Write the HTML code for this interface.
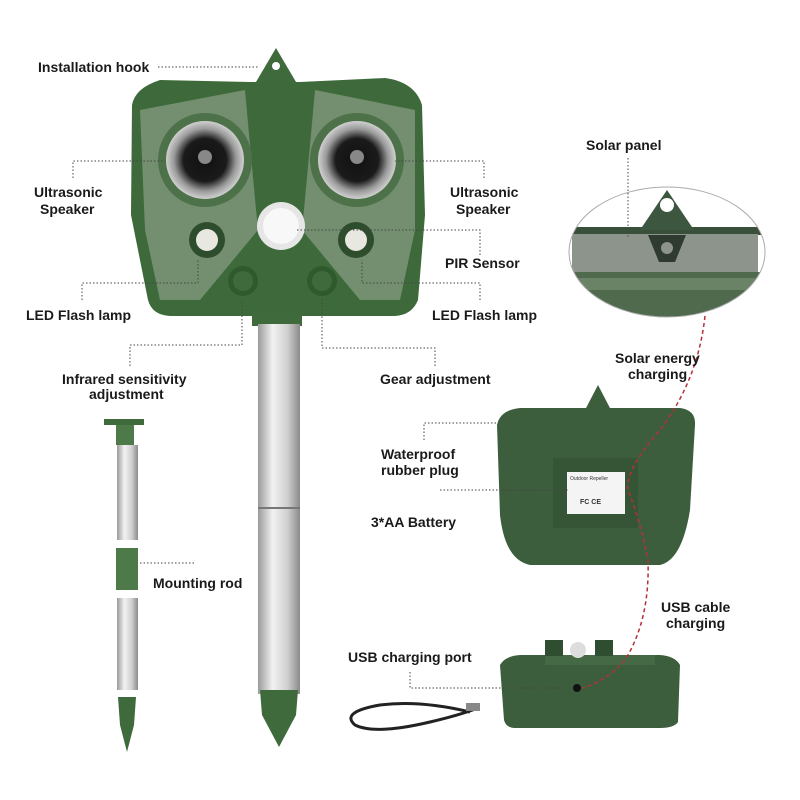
<!DOCTYPE html>
<html><head><meta charset="utf-8"><style>
html,body{margin:0;padding:0;background:#fff;}
svg{display:block}
text{font-family:"Liberation Sans",sans-serif;font-size:14px;font-weight:bold;fill:#1a1a1a;}
</style></head><body>
<svg width="800" height="800" viewBox="0 0 800 800" xmlns="http://www.w3.org/2000/svg">
<defs>
<linearGradient id="pole" x1="0" x2="1"><stop offset="0" stop-color="#9a9a9a"/><stop offset="0.35" stop-color="#f2f2f2"/><stop offset="0.7" stop-color="#d0d0d0"/><stop offset="1" stop-color="#8a8a8a"/></linearGradient>
<radialGradient id="spk"><stop offset="0" stop-color="#111"/><stop offset="0.55" stop-color="#1a1a1a"/><stop offset="0.8" stop-color="#9a9a9a"/><stop offset="1" stop-color="#d0d0d0"/></radialGradient>
<clipPath id="ell"><ellipse cx="667" cy="252" rx="98" ry="65"/></clipPath>
</defs>

<!-- Main device -->
<path d="M256 82 L276 48 L296 82 Z" fill="#3f6a3c"/>
<circle cx="276" cy="66" r="4" fill="#fff"/>
<path d="M132 105 Q135 88 160 80 L250 82 L300 82 L385 78 Q415 82 422 105 L425 215 L418 300 Q412 315 395 316 L170 316 Q152 315 148 300 L131 215 Z" fill="#3e6a3b"/>
<path d="M140 110 L245 90 Q255 200 258 230 L200 300 L160 300 L145 230 Z" fill="#738f70"/>
<path d="M415 110 L315 90 Q305 200 302 230 L360 300 L400 300 L415 230 Z" fill="#738f70"/>
<circle cx="205" cy="160" r="47" fill="#4d7249"/>
<circle cx="205" cy="160" r="39" fill="url(#spk)"/>
<circle cx="205" cy="157" r="7" fill="#888"/>
<circle cx="357" cy="160" r="47" fill="#4d7249"/>
<circle cx="357" cy="160" r="39" fill="url(#spk)"/>
<circle cx="357" cy="157" r="7" fill="#888"/>
<circle cx="207" cy="240" r="18" fill="#2e4d2c"/><circle cx="207" cy="240" r="11" fill="#e8e8e0"/>
<circle cx="356" cy="240" r="18" fill="#2e4d2c"/><circle cx="356" cy="240" r="11" fill="#e8e8e0"/>
<circle cx="281" cy="226" r="24" fill="#e6e6e6"/><circle cx="281" cy="226" r="18" fill="#f8f8f8"/>
<circle cx="243" cy="281" r="15" fill="#2f5a2d"/><circle cx="243" cy="281" r="10" fill="#3f6a3c"/>
<circle cx="322" cy="281" r="15" fill="#2f5a2d"/><circle cx="322" cy="281" r="10" fill="#3f6a3c"/>
<rect x="252" y="314" width="50" height="12" fill="#3e6a3c"/>
<!-- Pole -->
<rect x="258" y="324" width="42" height="370" fill="url(#pole)"/>
<line x1="258" y1="508" x2="300" y2="508" stroke="#777" stroke-width="2"/>
<path d="M260 690 L298 690 L296 715 L279 747 L262 715 Z" fill="#3f6a3c"/>

<!-- Exploded rod -->
<rect x="104" y="419" width="40" height="6" fill="#3e6a3c"/>
<rect x="116" y="425" width="18" height="20" fill="#4d7a48"/>
<rect x="117" y="445" width="21" height="95" fill="url(#pole)"/>
<rect x="116" y="548" width="22" height="42" fill="#4d7a48"/>
<rect x="117" y="598" width="21" height="92" fill="url(#pole)"/>
<path d="M118 697 L136 697 L134 725 L127 752 L120 725 Z" fill="#3f6a3c"/>

<!-- Solar panel ellipse -->
<g clip-path="url(#ell)">
<rect x="560" y="180" width="220" height="150" fill="#fff"/>
<rect x="560" y="272" width="220" height="60" fill="#4f6a4c"/>
<path d="M560 278 L780 278 L760 290 L580 290 Z" fill="#6a8266"/>
<rect x="560" y="227" width="220" height="8" fill="#3a4f3a"/>
<rect x="572" y="234" width="186" height="38" fill="#8d948c"/>
<path d="M640 230 L667 190 L694 230 Z" fill="#3d5640"/>
<circle cx="667" cy="205" r="7" fill="#fff"/>
<path d="M648 235 L686 235 L675 262 L659 262 Z" fill="#2f3a30"/>
<circle cx="667" cy="248" r="6" fill="#8d948c"/>
</g>
<ellipse cx="667" cy="252" rx="98" ry="65" fill="none" stroke="#aaa" stroke-width="1"/>

<!-- Back device -->
<path d="M585 410 L598 385 L611 410 Z" fill="#3d5e3d"/>
<path d="M497 425 Q500 410 520 408 L680 408 Q696 410 695 425 L690 510 Q682 560 660 565 L530 565 Q505 560 500 515 Z" fill="#3d5e3d"/>
<rect x="553" y="458" width="85" height="70" fill="#365536"/>
<rect x="567" y="472" width="58" height="42" fill="#f4f4f4"/>
<text x="570" y="480" style="font-size:5px;font-weight:normal;fill:#333">Outdoor Repeller</text>
<text x="580" y="504" style="font-size:7px;fill:#333">FC CE</text>

<!-- Bottom device -->
<path d="M500 665 Q505 656 520 655 L660 655 Q675 656 680 665 L678 722 Q674 728 660 728 L515 728 Q506 728 504 720 Z" fill="#3d5e3d"/>
<rect x="545" y="655" width="110" height="10" fill="#456945"/>
<rect x="545" y="640" width="18" height="16" fill="#2f4d2f"/>
<rect x="595" y="640" width="18" height="16" fill="#2f4d2f"/>
<circle cx="578" cy="650" r="8" fill="#ddd"/>
<circle cx="577" cy="688" r="4" fill="#111"/>

<!-- Cable -->
<path d="M470 712 Q420 700 380 705 Q340 712 355 725 Q375 735 430 722 Q460 715 478 708" fill="none" stroke="#222" stroke-width="3"/>
<rect x="466" y="703" width="14" height="8" fill="#888"/>

<!-- Red dashed -->
<path d="M705 316 Q698 380 660 430 Q625 470 628 490 Q640 520 648 560 Q650 620 625 660 Q605 682 582 688" fill="none" stroke="#b3303a" stroke-width="1.5" stroke-dasharray="4,3"/>

<!-- Leader lines -->
<g stroke="#444" stroke-width="1" stroke-dasharray="1.5,2" fill="none">
<path d="M158 67 L258 67"/>
<path d="M628 158 L628 238"/>
<path d="M73 178 L73 161 L165 161"/>
<path d="M484 178 L484 161 L395 161"/>
<path d="M480 255 L480 230 L297 230"/>
<path d="M82 300 L82 283 L198 283 L198 260"/>
<path d="M480 300 L480 283 L362 283 L362 260"/>
<path d="M130 366 L130 345 L242 345 L242 300"/>
<path d="M435 366 L435 348 L322 348 L322 298"/>
<path d="M424 440 L424 423 L498 423"/>
<path d="M440 490 L568 490"/>
<path d="M410 672 L410 688 L572 688"/>
<path d="M140 563 L195 563"/>
</g>

<text x="38" y="72">Installation hook</text>
<text x="34" y="197">Ultrasonic</text><text x="40" y="214">Speaker</text>
<text x="450" y="197">Ultrasonic</text><text x="456" y="214">Speaker</text>
<text x="445" y="268">PIR Sensor</text>
<text x="26" y="320">LED Flash lamp</text>
<text x="432" y="320">LED Flash lamp</text>
<text x="62" y="384">Infrared sensitivity</text><text x="89" y="399">adjustment</text>
<text x="380" y="384">Gear adjustment</text>
<text x="586" y="150">Solar panel</text>
<text x="615" y="363">Solar energy</text><text x="628" y="379">charging</text>
<text x="381" y="459">Waterproof</text><text x="381" y="475">rubber plug</text>
<text x="371" y="527">3*AA Battery</text>
<text x="153" y="588">Mounting rod</text>
<text x="661" y="612">USB cable</text><text x="666" y="628">charging</text>
<text x="348" y="662">USB charging port</text>
</svg>
</body></html>
